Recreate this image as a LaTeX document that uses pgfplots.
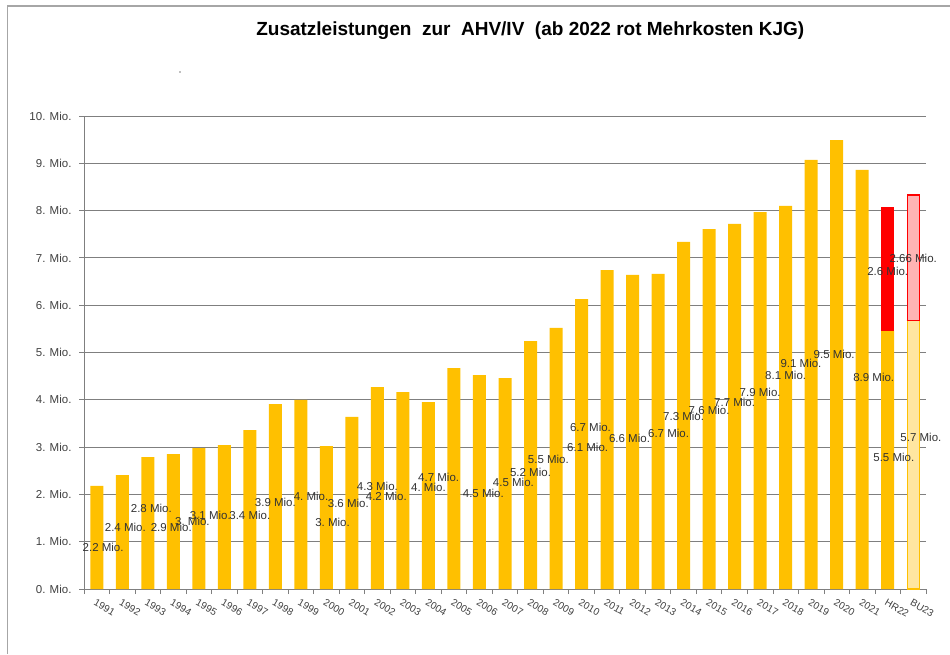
\documentclass[border=0pt]{standalone}
\usepackage{fontspec}
\setmainfont{Liberation Sans}
\usepackage{pgfplots}
\pgfplotsset{compat=1.18}
\definecolor{barY}{HTML}{FFC000}
\definecolor{lightY}{HTML}{FFE6A0}
\definecolor{pinkC}{HTML}{FFB4B4}
\definecolor{barR}{HTML}{FF0000}
\definecolor{gridgray}{HTML}{7F7F7F}
\definecolor{framegray}{HTML}{A6A6A6}
\definecolor{labelgray}{HTML}{404040}
\definecolor{datagray}{HTML}{333333}
\begin{document}
\begin{tikzpicture}[x=1pt,y=1pt]
\path[use as bounding box] (0,0) rectangle (950,654);
\draw[framegray, line width=1.5pt] (7.5,0) -- (7.5,648) -- (950,648);
\fill[gray] (180,582) circle (0.8pt);
\begin{axis}[
  at={(84pt,65pt)}, anchor=south west,
  scale only axis, width=842pt, height=473pt,
  xmin=-0.5, xmax=32.5, ymin=0, ymax=10,
  clip=false,
  axis x line*=bottom, axis y line*=left,
  axis line style={gridgray, line width=1pt, -},
  ytick={0,1,...,10},
  yticklabels={0. Mio.,1. Mio.,2. Mio.,3. Mio.,4. Mio.,5. Mio.,6. Mio.,7. Mio.,8. Mio.,9. Mio.,10. Mio.},
  xtick={0,1,...,32},
  xticklabels={1991,1992,1993,1994,1995,1996,1997,1998,1999,2000,2001,2002,2003,2004,2005,2006,2007,2008,2009,2010,2011,2012,2013,2014,2015,2016,2017,2018,2019,2020,2021,HR22,BU23},
  minor xtick={-0.5,0.5,...,32.5},
  tick align=outside, major tick length=5pt, minor tick length=5pt,
  every major x tick/.append style={draw=none},
  tick style={gridgray, line width=0.8pt},
  ymajorgrids, y grid style={gridgray, line width=0.8pt},
  xticklabel style={rotate=-30, anchor=north west, font=\fontsize{10}{12}\selectfont, text=labelgray, inner sep=1pt, xshift=1pt, yshift=-3pt},
  yticklabel style={font=\fontsize{11.5}{13}\selectfont, text=labelgray, xshift=-4pt},
  title={Zusatzleistungen\ \ zur\ \ AHV/IV\ \ (ab 2022 rot Mehrkosten KJG)},
  title style={at={(0.53,1.167)}, anchor=center, font=\bfseries\fontsize{19}{22}\selectfont, text=black},
]
% red extra cost HR22 (drawn behind base bar)
\addplot[ybar, bar width=13pt, bar shift=0pt, fill=barR, draw=none] coordinates {(31,8.08)};
% pink extra cost BU23
\addplot[ybar, bar width=12pt, bar shift=0pt, fill=pinkC, draw=barR, line width=1.2pt] coordinates {(32,8.33)};
% base bars
\addplot[ybar, bar width=13pt, bar shift=0pt, fill=barY, draw=none] table[x=x, y=y] {
x y
0 2.18
1 2.41
2 2.79
3 2.85
4 2.98
5 3.04
6 3.36
7 3.91
8 4.00
9 3.02
10 3.64
11 4.27
12 4.16
13 3.95
14 4.67
15 4.52
16 4.46
17 5.24
18 5.52
19 6.13
20 6.74
21 6.64
22 6.66
23 7.34
24 7.61
25 7.72
26 7.97
27 8.10
28 9.07
29 9.49
30 8.86
31 5.45
};
% light base BU23
\addplot[ybar, bar width=12pt, bar shift=0pt, fill=lightY, draw=barY, line width=1.2pt] coordinates {(32,5.67)};
\addplot[barR, line width=1.2pt, mark=none] coordinates {(31.7413,5.67) (32.2587,5.67)};
% data labels
\addplot[draw=none, mark=none, point meta=explicit symbolic,
  nodes near coords={\pgfplotspointmeta~Mio.},
  nodes near coords style={anchor=center, inner sep=0pt, font=\fontsize{11.5}{13}\selectfont, text=datagray}]
  table[x=x, y=y, meta=lab] {
x y lab
0.25 0.89 2.2
1.12 1.31 2.4
2.14 1.71 2.8
2.92 1.31 2.9
3.75 1.42 3.
4.45 1.56 3.1
6.00 1.56 3.4
7.00 1.84 3.9
8.40 1.95 4.
9.24 1.40 3.
9.86 1.82 3.6
11.00 2.16 4.3
11.35 1.95 4.2
13.00 2.14 4.
13.40 2.35 4.7
15.15 2.03 4.5
16.33 2.26 4.5
17.00 2.47 5.2
17.70 2.73 5.5
19.24 3.00 6.1
19.35 3.42 6.7
20.88 3.19 6.6
22.41 3.30 6.7
23.00 3.64 7.3
24.00 3.78 7.6
25.00 3.95 7.7
26.00 4.16 7.9
27.00 4.52 8.1
27.60 4.78 9.1
28.90 4.97 9.5
30.45 4.48 8.9
31.24 2.79 5.5
31.00 6.72 2.6
32.30 3.21 5.7
32.00 6.98 2.66
};
\end{axis}
\end{tikzpicture}
\end{document}
